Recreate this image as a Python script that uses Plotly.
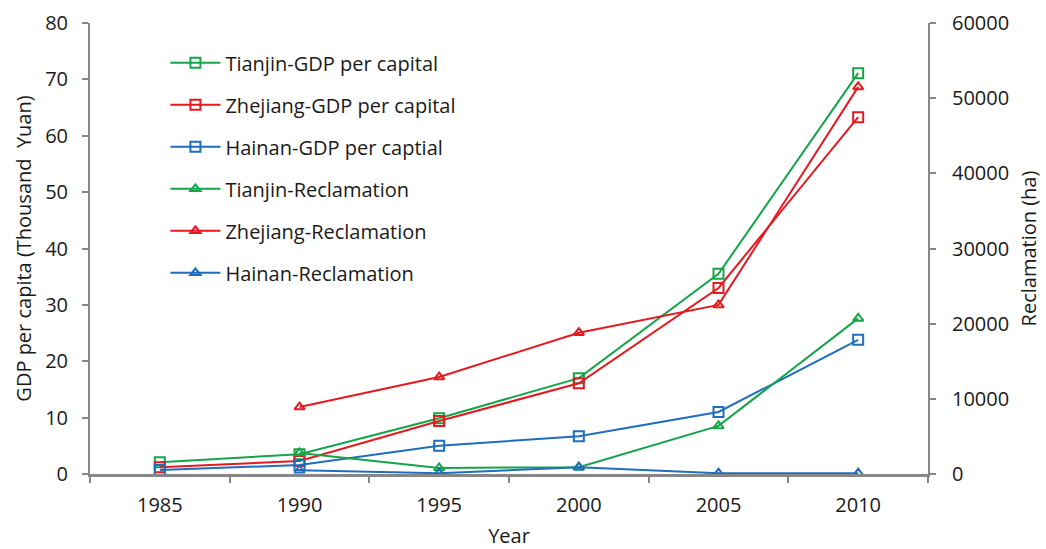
import plotly.graph_objects as go

years = ["1985", "1990", "1995", "2000", "2005", "2010"]
rec_years = ["1990", "1995", "2000", "2005", "2010"]

# GDP per capita (thousand yuan)
tianjin_gdp = [2.1, 3.5, 9.9, 17.0, 35.5, 71.1]
zhejiang_gdp = [1.2, 2.3, 9.4, 16.1, 33.0, 63.3]
hainan_gdp = [0.7, 1.6, 5.0, 6.7, 11.0, 23.8]

# Reclamation area (ha)
tianjin_rec = [2800, 800, 900, 6400, 20700]
zhejiang_rec = [8900, 12900, 18800, 22500, 51500]
hainan_rec = [500, 100, 900, 100, 100]

GREEN = "#14A54B"
RED = "#E5191F"
BLUE = "#1F6EBE"
AXIS = "#878787"
TEXT = "#1a1a1a"
FONT = "Open Sans"
FS = 20

fig = go.Figure()

series = [
    ("Tianjin-GDP per capital", years, tianjin_gdp, GREEN, "square-open", "y"),
    ("Zhejiang-GDP per capital", years, zhejiang_gdp, RED, "square-open", "y"),
    ("Hainan-GDP per captial", years, hainan_gdp, BLUE, "square-open", "y"),
    ("Tianjin-Reclamation", rec_years, tianjin_rec, GREEN, "triangle-up-open", "y2"),
    ("Zhejiang-Reclamation", rec_years, zhejiang_rec, RED, "triangle-up-open", "y2"),
    ("Hainan-Reclamation", rec_years, hainan_rec, BLUE, "triangle-up-open", "y2"),
]

for i, (name, xs, ys, color, symbol, axis) in enumerate(series):
    fig.add_trace(go.Scatter(
        x=xs, y=ys, name=name, yaxis=axis,
        mode="lines+markers",
        line=dict(color=color, width=2),
        marker=dict(symbol=symbol, size=10 if "square" in symbol else 9,
                    color=color, line=dict(color=color, width=2)),
        legendgroup=f"g{i}",
    ))

fig.update_layout(
    width=1046, height=549,
    margin=dict(l=90, r=118, t=23, b=75),
    plot_bgcolor="white", paper_bgcolor="white",
    font=dict(family=FONT, size=FS, color=TEXT),
    showlegend=True,
    legend=dict(
        x=0.09, y=0.955, xanchor="left", yanchor="top",
        bgcolor="rgba(0,0,0,0)",
        font=dict(family=FONT, size=FS, color=TEXT),
        traceorder="grouped", tracegroupgap=13,
        itemwidth=50,
    ),
    xaxis=dict(
        type="category", categoryorder="array", categoryarray=years,
        tickson="boundaries", ticks="outside", ticklen=6, tickcolor=AXIS, tickwidth=2,
        showline=True, linecolor=AXIS, linewidth=3, showgrid=False,
        ticklabelstandoff=11, automargin=False,
        title=dict(text="Year", standoff=21, font=dict(size=FS)),
        tickfont=dict(size=FS),
        range=[-0.5, 5.5],
    ),
    yaxis=dict(
        range=[0, 80], dtick=10, ticks="outside", ticklen=6, tickcolor=AXIS, tickwidth=2,
        showline=True, linecolor=AXIS, linewidth=2, showgrid=False, zeroline=False,
        ticklabelstandoff=10, automargin=False,
        title=dict(text="GDP per capita (Thousand  Yuan)", standoff=8, font=dict(size=FS)),
        tickfont=dict(size=FS),
    ),
    yaxis2=dict(
        range=[0, 60000], dtick=10000, tickformat="d", overlaying="y", side="right",
        ticks="outside", ticklen=6, tickcolor=AXIS, tickwidth=2,
        showline=True, linecolor=AXIS, linewidth=2, showgrid=False, zeroline=False,
        ticklabelstandoff=12, automargin=False,
        title=dict(text="Reclamation (ha)", standoff=14, font=dict(size=FS)),
        tickfont=dict(size=FS),
    ),
)

fig.write_html("out.html")
